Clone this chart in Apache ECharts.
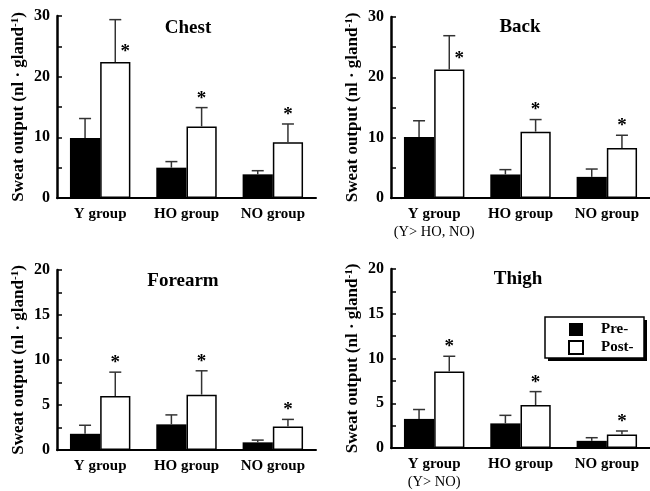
<!DOCTYPE html>
<html><head><meta charset="utf-8">
<script src="https://cdn.jsdelivr.net/npm/echarts@6/dist/echarts.min.js"></script>
<style>html,body{margin:0;padding:0;background:#fff}#c{width:650px;height:491px}</style>
</head><body><div id="c"></div>
<script>
// ---------- data ----------
const categories = ['Y group', 'HO group', 'NO group'];
const panelNames = ['Chest', 'Back', 'Forearm', 'Thigh'];
const seriesNames = ['Pre-', 'Post-'];

const chestPre = [9.9, 5.0, 3.9];
const chestPreSD = [3.2, 1.0, 0.6];
const chestPost = [22.4, 11.8, 9.2];
const chestPostSD = [7.0, 3.1, 3.0];

const backPre = [10.1, 3.9, 3.5];
const backPreSD = [2.7, 0.8, 1.3];
const backPost = [21.3, 11.0, 8.3];
const backPostSD = [5.6, 2.0, 2.1];

const forearmPre = [1.8, 2.85, 0.85];
const forearmPreSD = [0.95, 1.05, 0.25];
const forearmPost = [6.0, 6.15, 2.6];
const forearmPostSD = [2.65, 2.65, 0.8];

const thighPre = [3.25, 2.75, 0.8];
const thighPreSD = [1.05, 0.9, 0.35];
const thighPost = [8.55, 4.8, 1.5];
const thighPostSD = [1.7, 1.5, 0.4];

const chestSig = ['*', '*', '*'];
const backSig = ['*', '*', '*'];
const forearmSig = ['*', '*', '*'];
const thighSig = ['*', '*', '*'];

const chestSub = ['', '', ''];
const backSub = ['(Y> HO, NO)', '', ''];
const forearmSub = ['', '', ''];
const thighSub = ['(Y> NO)', '', ''];

const yMax = [30, 30, 20, 20];
const yInterval = [10, 10, 5, 5];
const yAxisName = 'Sweat output (nl · gland{sup|-1})';

// ---------- layout ----------
const FONT = '"Liberation Serif", "Times New Roman", serif';
const grids = [
  {left: 57, top: 16, width: 259, height: 182},
  {left: 391, top: 17, width: 259, height: 181},
  {left: 57, top: 270, width: 259, height: 180},
  {left: 391, top: 269, width: 259, height: 181}
];
const titlePos = [[188, 28], [520, 27], [183, 281], [518, 279]];
const legendBox = {x: 545, y: 317, w: 99, h: 41, shadow: 3};

const panels = [
  {pre: chestPre, preSD: chestPreSD, post: chestPost, postSD: chestPostSD, sig: chestSig, sub: chestSub},
  {pre: backPre, preSD: backPreSD, post: backPost, postSD: backPostSD, sig: backSig, sub: backSub},
  {pre: forearmPre, preSD: forearmPreSD, post: forearmPost, postSD: forearmPostSD, sig: forearmSig, sub: forearmSub},
  {pre: thighPre, preSD: thighPreSD, post: thighPost, postSD: thighPostSD, sig: thighSig, sub: thighSub}
];

const xAxes = [], yAxes = [], series = [];
panels.forEach((p, i) => {
  xAxes.push({
    gridIndex: i, type: 'category', data: categories,
    axisLine: {lineStyle: {color: '#000', width: 2}},
    axisTick: {inside: true, length: 6, interval: 0, lineStyle: {color: '#000', width: 2}},
    axisLabel: {
      interval: 0, hideOverlap: false,
      margin: 7, color: '#000', fontFamily: FONT, fontWeight: 'bold', fontSize: 15, lineHeight: 18,
      formatter: (v, idx) => p.sub[idx] ? v + '\n{sub|' + p.sub[idx] + '}' : v,
      rich: {sub: {fontFamily: FONT, fontWeight: 'normal', fontSize: 14.5, color: '#000', lineHeight: 18}}
    }
  });
  yAxes.push({
    gridIndex: i, type: 'value', min: 0, max: yMax[i], interval: yInterval[i],
    axisLine: {show: true, lineStyle: {color: '#000', width: 2.5}},
    axisTick: {show: true, inside: true, length: 5, lineStyle: {color: '#000', width: 1.5}},
    minorTick: {show: true, splitNumber: 2, length: 5, lineStyle: {color: '#000', width: 1.5}},
    splitLine: {show: false},
    axisLabel: {margin: 7, color: '#000', fontFamily: FONT, fontWeight: 'bold', fontSize: 16},
    name: yAxisName, nameLocation: 'middle', nameRotate: 90, nameGap: 30,
    nameTextStyle: {color: '#000', fontFamily: FONT, fontWeight: 'bold', fontSize: 17,
      rich: {sup: {fontFamily: FONT, fontWeight: 'bold', fontSize: 11, verticalAlign: 'top'}}}
  });
  series.push({
    name: seriesNames[0], type: 'bar', xAxisIndex: i, yAxisIndex: i, data: p.pre,
    barGap: '0%', barCategoryGap: '30%', itemStyle: {color: '#000'}, silent: true
  });
  series.push({
    name: seriesNames[1], type: 'bar', xAxisIndex: i, yAxisIndex: i, data: p.post,
    barGap: '0%', barCategoryGap: '30%',
    itemStyle: {color: '#fff', borderColor: '#000', borderWidth: 1.5}, silent: true
  });
  const errData = [];
  p.pre.forEach((v, k) => errData.push([k, v, p.preSD[k], 0]));
  p.post.forEach((v, k) => errData.push([k, v, p.postSD[k], 1]));
  const gTop = grids[i].top;
  series.push({
    type: 'custom', xAxisIndex: i, yAxisIndex: i, data: errData, silent: true, z: 5,
    renderItem: (params, api) => {
      const idx = api.value(0), val = api.value(1), sd = api.value(2), which = api.value(3);
      const band = api.size([1, 0])[0];
      const off = (which === 0 ? -1 : 1) * band * 0.7 / 4;
      const base = api.coord([idx, val]);
      const top = api.coord([idx, val + sd]);
      const x = base[0] + off;
      const stroke = {stroke: '#333', lineWidth: 1.5};
      const children = [
        {type: 'line', shape: {x1: x, y1: base[1], x2: x, y2: top[1]}, style: stroke},
        {type: 'line', shape: {x1: x - 6, y1: top[1], x2: x + 6, y2: top[1]}, style: stroke}
      ];
      const sig = which === 1 ? p.sig[idx] : '';
      if (sig) {
        let sx = x, sy = top[1] - 9;
        if (top[1] - gTop < 24) { sx = x + 10; sy = base[1] - 10; }
        children.push({type: 'text', x: sx, y: sy,
          style: {text: sig, font: 'bold 19px ' + FONT, fill: '#000', align: 'center', verticalAlign: 'middle'}});
      }
      return {type: 'group', children};
    }
  });
});

const option = {
  backgroundColor: '#fff',
  animation: false,
  grid: grids,
  xAxis: xAxes,
  yAxis: yAxes,
  series: series,
  legend: {
    orient: 'vertical', left: legendBox.x, top: legendBox.y, data: seriesNames, z: 20,
    itemWidth: 14, itemHeight: 13, itemGap: 3, icon: 'rect',
    padding: [5, 12, 5, 23],
    selectedMode: false,
    textStyle: {fontFamily: FONT, fontWeight: 'bold', fontSize: 15, color: '#000', padding: [0, 0, 0, 13]}
  },
  graphic: [
    {type: 'rect', z: 10, shape: {x: legendBox.x + legendBox.shadow, y: legendBox.y + legendBox.shadow, width: legendBox.w, height: legendBox.h}, style: {fill: '#000'}},
    {type: 'rect', z: 11, shape: {x: legendBox.x, y: legendBox.y, width: legendBox.w, height: legendBox.h}, style: {fill: '#fff', stroke: '#000', lineWidth: 1.5}}
  ].concat(panelNames.map((n, i) => ({
    type: 'text', x: titlePos[i][0], y: titlePos[i][1],
    style: {text: n, font: 'bold 19px ' + FONT, fill: '#000', align: 'center', verticalAlign: 'middle'}
  })))
};

const chart = echarts.init(document.getElementById('c'), null, {renderer: 'canvas'});
chart.setOption(option);
</script>
</body></html>
